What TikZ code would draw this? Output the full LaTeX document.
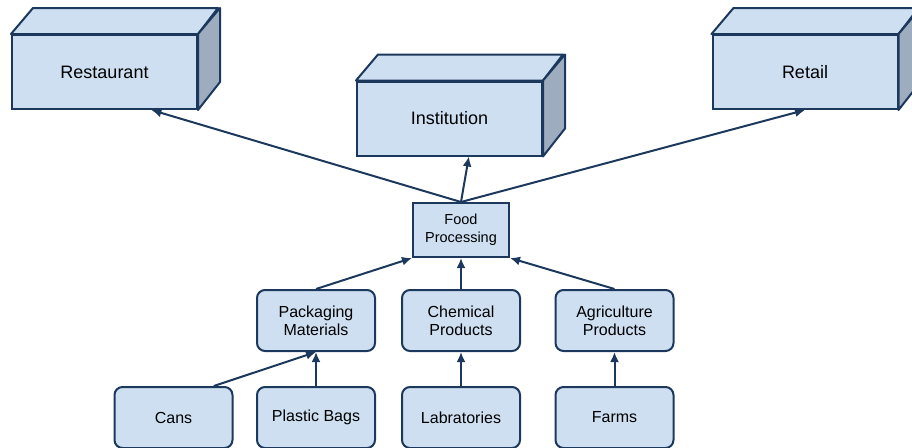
\documentclass[tikz,border=0pt]{standalone}
\usepackage{fontspec}
\setmainfont{Liberation Sans}
\usetikzlibrary{arrows.meta}
\definecolor{boxfill}{RGB}{206,223,241}
\definecolor{boxline}{RGB}{28,56,92}
\definecolor{boxside}{RGB}{158,172,192}
\tikzstyle{front} = [rectangle, draw=boxline, fill=boxfill, line width=2pt, minimum width=185pt, minimum height=74pt, font=\fontsize{18}{20}\selectfont]
\tikzstyle{proc} = [rectangle, draw=boxline, fill=boxfill, line width=2pt, minimum width=96pt, minimum height=54pt, align=center, font=\fontsize{14.5}{18}\selectfont]
\tikzstyle{source} = [rectangle, rounded corners=8pt, draw=boxline, fill=boxfill, line width=2pt, minimum width=118pt, minimum height=61pt, align=center, font=\fontsize{16}{18}\selectfont]
\tikzstyle{link} = [draw=boxline, line width=2pt, -{Latex[length=10pt,width=9pt]}]
\newcommand{\cube}[1]{%
  \filldraw[fill=boxfill, draw=boxline, line width=2pt, line join=round] (#1.north west) -- ++(22,-26) -- ++(185,0) -- (#1.north east) -- cycle;
  \filldraw[fill=boxside, draw=boxline, line width=2pt, line join=round] (#1.north east) -- ++(22,-26) -- ++(0,74) -- (#1.south east) -- cycle;}

\begin{document}
\begin{tikzpicture}[x=1pt, y=-1pt]
  \clip (0,0) rectangle (912,447);
  % top level
  \node [front] (rest) at (104.5,72) {Restaurant}; \cube{rest}
  \node [front] (inst) at (449.5,118.5) {Institution}; \cube{inst}
  \node [front] (retail) at (805,72) {Retail}; \cube{retail}
  % middle
  \node [proc] (food) at (461,230) {Food\\Processing};
  \node [source] (pack) at (316,320.5) {Packaging\\Materials};
  \node [source] (chem) at (461,320.5) {Chemical\\Products};
  \node [source] (agri) at (614.5,320.5) {Agriculture\\Products};
  % bottom row
  \node [source] (cans) at (173.5,417.5) {Cans};
  \node [source] (bags) at (316,417.5) {Plastic Bags};
  \node [source] (labs) at (461,417.5) {Labratories};
  \node [source] (farms) at (614.5,417.5) {Farms};
  % arrows
  \draw [link] (food.north) -- (rest.-39);
  \draw [link] (food.north) -- (inst.-63);
  \draw [link] (food.north) -- (retail.south);
  \draw [link] (pack.north) -- (food.south west);
  \draw [link] (chem.north) -- (food.south);
  \draw [link] (agri.north) -- (food.south east);
  \draw [link] (cans.38) -- (pack.south);
  \draw [link] (bags.north) -- (pack.south);
  \draw [link] (labs.north) -- (chem.south);
  \draw [link] (farms.north) -- (agri.south);
\end{tikzpicture}
\end{document}
